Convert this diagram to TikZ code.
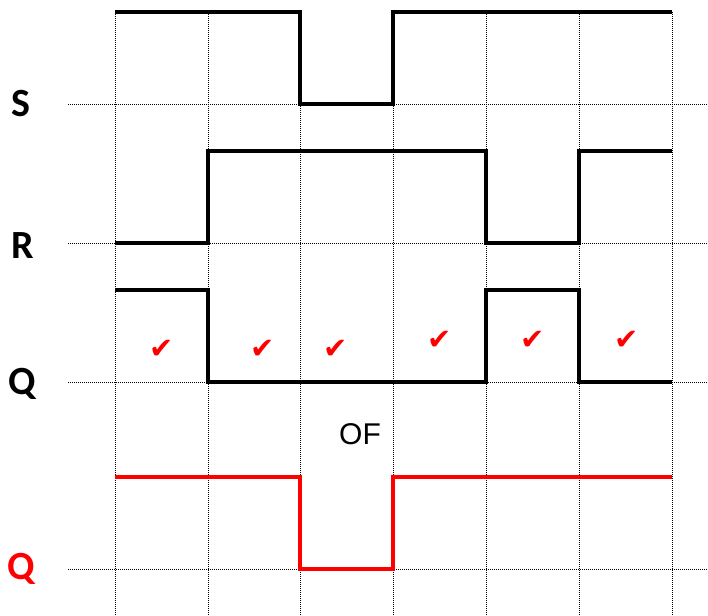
\documentclass[tikz,border=0pt]{standalone}
\usepackage{fontspec}
\setsansfont{Carlito}
\newfontfamily\arialfont{Liberation Sans}
\newfontfamily\checkfont{DejaVu Sans}
\usepackage{tikz}

\begin{document}
\begin{tikzpicture}[x=1pt,y=-1pt,
    gridline/.style={black,line width=0.8pt,dash pattern=on 1pt off 1pt},
    wave/.style={black,line width=3.6pt,line join=miter},
    sig/.style={font=\sffamily\bfseries\fontsize{40}{44}\selectfont},
    tick/.style={red,font=\checkfont\fontsize{29}{30}\selectfont}]
  \useasboundingbox (0,0) rectangle (708,615);
  % grid
  \foreach \x in {115,208,300,393,486,579,672} \draw[gridline] (\x,12) -- (\x,615);
  \foreach \y in {104,243,382,569} \draw[gridline] (68,\y) -- (708,\y);
  % signal names
  \node[sig] (labS) at (21,104) {S};
  \node[sig] (labR) at (23,246) {R};
  \node[sig] (labQ) at (22,384) {Q};
  \node[sig,red] (labQn) at (21,569) {Q};
  % waveforms
  \draw[wave] (115,12) -- (300,12) -- (300,104) -- (393,104) -- (393,12) -- (672,12);
  \draw[wave] (115,243) -- (208,243) -- (208,151) -- (486,151) -- (486,243) -- (579,243) -- (579,151) -- (672,151);
  \draw[wave] (115,290) -- (208,290) -- (208,382) -- (486,382) -- (486,290) -- (579,290) -- (579,382) -- (672,382);
  \draw[wave,red] (115,477) -- (300,477) -- (300,569) -- (393,569) -- (393,477) -- (672,477);
  % checks
  \foreach \x/\y [count=\i] in {162/349,263/349,336/349,440/340,533/340,627/340}
    \node[tick] (ok\i) at (\x,\y) {✔};
  \node[font=\arialfont\fontsize{30}{32}\selectfont] (of) at (360,434) {OF};
\end{tikzpicture}
\end{document}
